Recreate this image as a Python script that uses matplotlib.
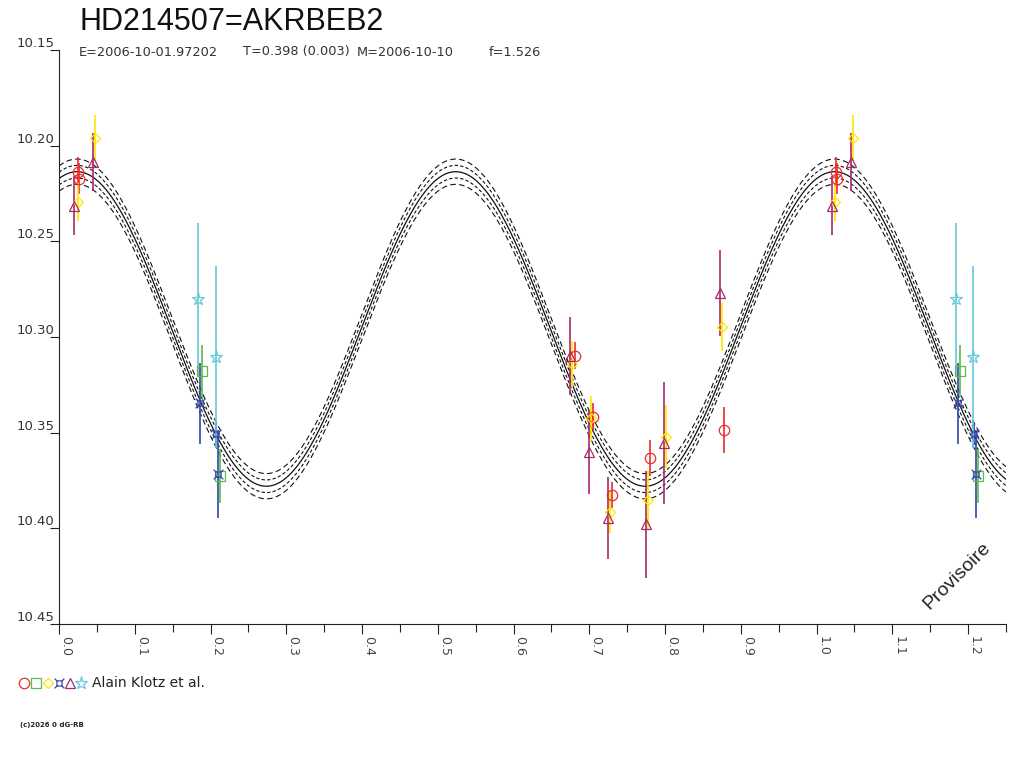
import numpy as np
import matplotlib
matplotlib.use('Agg')
import matplotlib.pyplot as plt
from matplotlib.path import Path
from matplotlib.ticker import MultipleLocator, FormatStrFormatter

title = 'HD214507=AKRBEB2'
info_parts = ['E=2006-10-01.97202', 'T=0.398 (0.003)', 'M=2006-10-10', 'f=1.526']
observer = 'Alain Klotz et al.'

# fitted light curve
fit_mean = 10.2958
fit_amp = 0.0822
fit_peak = 0.0237
fit_cycles = 2
env_inner = 0.0033
env_outer = 0.0066

# phase, magnitude, error per symbol
red_phase = [0.0255, 0.0270, 0.6807, 0.7050, 0.7300, 0.7797, 0.8777]
red_mag = [10.2138, 10.2172, 10.3098, 10.3417, 10.3826, 10.3634, 10.3486]
red_err = [0.008, 0.008, 0.007, 0.007, 0.007, 0.0094, 0.012]

green_phase = [0.1890, 0.2124]
green_mag = [10.3176, 10.3725]
green_err = [0.0136, 0.014]

yellow_phase = [0.0246, 0.0479, 0.6777, 0.7027, 0.7277, 0.7775, 0.8017, 0.8755]
yellow_mag = [10.2293, 10.1962, 10.3141, 10.3425, 10.3913, 10.3852, 10.3521, 10.2946]
yellow_err = [0.010, 0.012, 0.0118, 0.0116, 0.0113, 0.0152, 0.0163, 0.0125]

blue_phase = [0.1864, 0.2075, 0.2102]
blue_mag = [10.3347, 10.3507, 10.3718]
blue_err = [0.021, 0.006, 0.023]

purple_phase = [0.0202, 0.0453, 0.6750, 0.6997, 0.7247, 0.7748, 0.7986, 0.8724]
purple_mag = [10.2313, 10.2084, 10.3099, 10.3600, 10.3948, 10.3979, 10.3556, 10.2770]
purple_err = [0.0152, 0.0152, 0.0204, 0.0218, 0.0214, 0.028, 0.0319, 0.0225]

cyan_phase = [0.1838, 0.2071]
cyan_mag = [10.2803, 10.3103]
cyan_err = [0.040, 0.0476]

# "currency sign" like marker
_v = [(-0.5, -0.5), (0.5, -0.5), (0.5, 0.5), (-0.5, 0.5), (-0.5, -0.5),
      (-0.5, -0.5), (-0.95, -0.95), (0.5, -0.5), (0.95, -0.95),
      (0.5, 0.5), (0.95, 0.95), (-0.5, 0.5), (-0.95, 0.95)]
_c = [Path.MOVETO, Path.LINETO, Path.LINETO, Path.LINETO, Path.LINETO,
      Path.MOVETO, Path.LINETO, Path.MOVETO, Path.LINETO,
      Path.MOVETO, Path.LINETO, Path.MOVETO, Path.LINETO]
curr_marker = Path(_v, _c)

series = [
    (red_phase, red_mag, red_err, '#ee2b2b', 'o', 7.5),
    (green_phase, green_mag, green_err, '#5cbb48', 's', 7),
    (yellow_phase, yellow_mag, yellow_err, '#ffe600', 'D', 5.5),
    (blue_phase, blue_mag, blue_err, '#3346a8', curr_marker, 7),
    (purple_phase, purple_mag, purple_err, '#a8286e', '^', 7.5),
    (cyan_phase, cyan_mag, cyan_err, '#66c8dc', '*', 9.5),
]

XMAX = 1.25


def fold(ph, mg, er):
    # points before phase 0.25 are shown again one cycle later
    ph = np.asarray(ph); mg = np.asarray(mg); er = np.asarray(er)
    extra = ph + 1 < XMAX
    return (np.concatenate([ph, ph[extra] + 1]),
            np.concatenate([mg, mg[extra]]),
            np.concatenate([er, er[extra]]))


def main():
    plt.rcParams['font.family'] = ['DejaVu Sans']
    fig = plt.figure(figsize=(10.24, 7.68), dpi=100)
    ax = fig.add_axes([59 / 1024, 1 - 624 / 768, (1006 - 59) / 1024, (624 - 50) / 768])

    x = np.linspace(0, XMAX, 1200)
    y = fit_mean - fit_amp * np.cos(2 * np.pi * fit_cycles * (x - fit_peak))
    ax.plot(x, y, color='#111111', lw=0.9, zorder=1)
    for s in (-1, 1):
        ax.plot(x, y + s * env_inner, color='#111111', lw=0.8, dashes=(3, 2), zorder=1)
        ax.plot(x, y + s * env_outer, color='#111111', lw=0.8, dashes=(5, 3), zorder=1)

    for ph, mg, er, col, mk, ms in series:
        p, m, e = fold(ph, mg, er)
        ax.vlines(p, m - e, m + e, color=col, lw=1.2, zorder=2)
        ax.plot(p, m, ls='none', marker=mk, ms=ms, mfc='none', mec=col, mew=0.9, zorder=3)

    ax.set_xlim(0, XMAX)
    ax.set_ylim(10.45, 10.15)
    for side in ('top', 'right'):
        ax.spines[side].set_visible(False)
    for side in ('left', 'bottom'):
        ax.spines[side].set_color('#222222')
        ax.spines[side].set_linewidth(0.8)

    ax.xaxis.set_major_locator(MultipleLocator(0.1))
    ax.xaxis.set_minor_locator(MultipleLocator(0.05))
    ax.xaxis.set_major_formatter(FormatStrFormatter('%.1f'))
    ax.yaxis.set_major_locator(MultipleLocator(0.05))
    ax.yaxis.set_major_formatter(FormatStrFormatter('%.2f'))
    ax.tick_params(axis='x', which='major', length=7.5, width=0.8, pad=1.5, labelsize=9,
                   labelcolor='#444444', color='#222222')
    ax.tick_params(axis='x', which='minor', length=6, width=0.8, color='#222222')
    ax.tick_params(axis='y', length=6.5, width=0.8, pad=-3, labelsize=9.5,
                   labelcolor='#333333', color='#222222')
    for lab in ax.get_xticklabels():
        lab.set_rotation(-90)
        lab.set_ha('left')
        lab.set_va('top')
    for lab in ax.get_yticklabels():
        lab.set_va('bottom')

    fig.text(79 / 1024, 1 - 30.5 / 768, title, fontsize=22, family='Liberation Sans', color='#111111')
    for xp, part in zip([79, 243, 357, 489], info_parts):
        fig.text(xp / 1024, 1 - 55.5 / 768, part, fontsize=9.3, color='#333333')

    fig.text(957.5 / 1024, 1 - 576 / 768, 'Provisoire', fontsize=14, family='Liberation Sans',
             rotation=45, ha='center', va='center', color='#222222')

    # legend row
    for xp, (_, _, _, col, mk, ms) in zip([24, 36, 48, 59, 70, 81], series):
        fig.lines.append(plt.Line2D([xp / 1024], [1 - 683 / 768], transform=fig.transFigure,
                                    marker=mk, ms=ms, mfc='none', mec=col, mew=0.9, ls='none'))
    fig.text(92 / 1024, 1 - 687 / 768, observer, fontsize=10, color='#222222')
    fig.text(20 / 1024, 1 - 727 / 768, '(c)2026 0 dG-RB', fontsize=5, weight='bold', color='#222222')

    fig.savefig('out.png', dpi=100)


if __name__ == '__main__':
    main()
